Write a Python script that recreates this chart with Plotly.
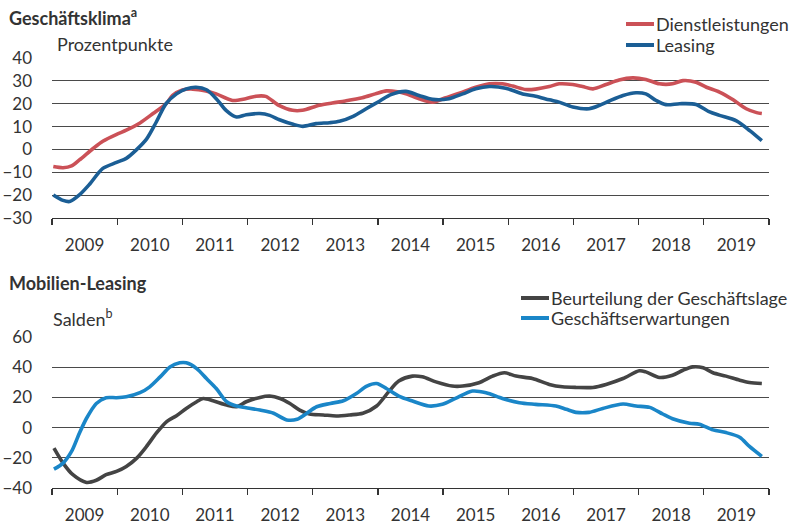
import plotly.graph_objects as go

# ---------------- data (decimal years) -------------
dl_t = [2009.02, 2009.17, 2009.30, 2009.42, 2009.63, 2009.78, 2010.00, 2010.14, 2010.35, 2010.55,
        2010.75, 2010.85, 2011.00, 2011.16, 2011.36, 2011.52, 2011.77, 2011.97, 2012.13, 2012.28,
        2012.48, 2012.69, 2012.84, 2013.10, 2013.30, 2013.50, 2013.76, 2013.96, 2014.13, 2014.30,
        2014.43, 2014.63, 2014.84, 2015.04, 2015.25, 2015.50, 2015.71, 2015.91, 2016.07, 2016.27,
        2016.42, 2016.63, 2016.78, 2016.99, 2017.14, 2017.30, 2017.50, 2017.70, 2017.91, 2018.11,
        2018.32, 2018.52, 2018.68, 2018.88, 2019.04, 2019.24, 2019.45, 2019.65, 2019.81, 2019.89]
dl_v = [-7.5, -8.0, -7.2, -4.6, 0.4, 3.6, 6.7, 8.4, 11.6, 15.7,
        20.0, 23.6, 26.0, 26.4, 25.6, 24.3, 21.4, 22.2, 23.3, 23.2,
        19.3, 17.1, 17.1, 19.3, 20.3, 21.2, 22.6, 24.3, 25.6, 25.2,
        24.3, 22.2, 20.7, 22.6, 24.6, 27.2, 28.7, 28.7, 27.7, 26.2,
        26.4, 27.5, 28.7, 28.4, 27.5, 26.5, 28.4, 30.4, 31.3, 30.6,
        28.7, 28.7, 30.1, 29.4, 27.2, 25.1, 21.7, 17.8, 16.1, 15.7]

le_t = [2009.02, 2009.17, 2009.27, 2009.42, 2009.58, 2009.78, 2009.99, 2010.14, 2010.29, 2010.45,
        2010.60, 2010.75, 2010.91, 2011.06, 2011.21, 2011.37, 2011.52, 2011.67, 2011.83, 2011.98,
        2012.19, 2012.34, 2012.49, 2012.70, 2012.85, 2013.05, 2013.26, 2013.41, 2013.62, 2013.82,
        2014.03, 2014.20, 2014.43, 2014.63, 2014.84, 2015.09, 2015.30, 2015.50, 2015.71, 2015.96,
        2016.22, 2016.42, 2016.63, 2016.78, 2016.99, 2017.24, 2017.40, 2017.55, 2017.76, 2017.96,
        2018.11, 2018.27, 2018.42, 2018.63, 2018.88, 2019.09, 2019.24, 2019.50, 2019.71, 2019.89]
le_v = [-19.9, -22.3, -22.8, -19.9, -15.1, -8.3, -5.7, -3.9, -0.3, 4.5,
        12.0, 20.0, 24.3, 26.5, 27.2, 26.1, 22.2, 17.1, 14.2, 15.2,
        15.7, 14.9, 13.0, 11.0, 10.1, 11.3, 11.7, 12.3, 14.5, 17.8,
        21.2, 24.0, 25.4, 23.6, 21.9, 22.2, 24.3, 26.5, 27.5, 26.8,
        24.3, 23.3, 21.7, 20.7, 18.6, 17.8, 19.3, 21.2, 23.6, 24.8,
        24.3, 21.4, 19.6, 20.0, 19.7, 16.4, 14.9, 12.5, 8.1, 3.8]

bl_t = [2009.03, 2009.17, 2009.32, 2009.53, 2009.68, 2009.83, 2009.99, 2010.14, 2010.30, 2010.45,
        2010.60, 2010.76, 2010.91, 2011.06, 2011.22, 2011.32, 2011.47, 2011.68, 2011.83, 2011.98,
        2012.19, 2012.34, 2012.50, 2012.65, 2012.80, 2012.95, 2013.16, 2013.36, 2013.57, 2013.77,
        2013.98, 2014.17, 2014.32, 2014.53, 2014.68, 2014.89, 2015.14, 2015.30, 2015.55, 2015.76,
        2015.94, 2016.12, 2016.37, 2016.63, 2016.83, 2017.04, 2017.30, 2017.50, 2017.76, 2018.01,
        2018.11, 2018.32, 2018.52, 2018.68, 2018.83, 2018.99, 2019.14, 2019.34, 2019.55, 2019.70,
        2019.89]
bl_v = [-13.6, -23.5, -31.2, -36.3, -34.9, -31.2, -29.0, -25.7, -20.2, -12.5,
        -3.7, 4.0, 7.9, 12.7, 17.1, 19.3, 17.8, 14.9, 13.8, 17.1,
        20.0, 20.9, 19.3, 16.0, 11.6, 9.0, 8.4, 7.7, 8.4, 9.5,
        14.3, 24.0, 30.8, 34.1, 33.6, 30.3, 27.5, 27.5, 29.7, 34.1,
        36.3, 34.1, 32.5, 28.6, 27.0, 26.6, 26.6, 28.6, 32.5, 37.6,
        36.9, 33.2, 34.7, 38.0, 40.2, 39.6, 36.3, 34.1, 31.4, 29.9,
        29.2]

ge_t = [2009.03, 2009.17, 2009.30, 2009.42, 2009.53, 2009.68, 2009.83, 2009.99, 2010.14, 2010.35,
        2010.50, 2010.66, 2010.81, 2010.96, 2011.06, 2011.22, 2011.37, 2011.52, 2011.68, 2011.83,
        2011.98, 2012.19, 2012.40, 2012.60, 2012.76, 2012.91, 2013.06, 2013.27, 2013.47, 2013.67,
        2013.83, 2013.98, 2014.13, 2014.32, 2014.53, 2014.78, 2014.99, 2015.19, 2015.45, 2015.66,
        2015.91, 2016.17, 2016.42, 2016.73, 2016.89, 2017.04, 2017.24, 2017.45, 2017.76, 2017.96,
        2018.17, 2018.37, 2018.52, 2018.78, 2018.93, 2019.14, 2019.34, 2019.55, 2019.70, 2019.89]
ge_v = [-27.5, -23.5, -15.8, -3.7, 6.2, 16.0, 19.8, 19.8, 20.4, 23.1,
        27.0, 33.6, 40.2, 42.9, 42.9, 39.1, 32.5, 25.9, 17.1, 14.3,
        13.2, 11.6, 9.5, 5.1, 5.5, 9.5, 13.8, 16.0, 17.8, 22.6,
        27.5, 29.2, 25.9, 20.9, 17.6, 14.3, 15.4, 19.3, 24.2, 23.1,
        19.3, 16.5, 15.4, 14.3, 12.1, 10.1, 10.1, 12.7, 15.6, 14.3,
        13.4, 9.0, 5.9, 2.9, 2.2, -1.5, -3.3, -6.4, -12.5, -19.1]

years = list(range(2009, 2020))
year_labels = [str(y) for y in years]

# ---------------- styling ----------------
W, H = 789, 525
FONT = "Lato"
TXT = "#333333"
C_DL = "#cb5157"
C_LE = "#1b5e95"
C_BL = "#444444"
C_GE = "#1a86c8"
LW = 3.6

def px_x(p):
    return p / W

def px_y(p):
    return 1 - p / H

fig = go.Figure()
line_kw = dict(mode="lines", line_shape="spline", showlegend=False, hoverinfo="skip")
fig.add_trace(go.Scatter(x=dl_t, y=dl_v, line=dict(color=C_DL, width=LW, smoothing=0.8), xaxis="x", yaxis="y", **line_kw))
fig.add_trace(go.Scatter(x=le_t, y=le_v, line=dict(color=C_LE, width=LW, smoothing=0.8), xaxis="x", yaxis="y", **line_kw))
fig.add_trace(go.Scatter(x=bl_t, y=bl_v, line=dict(color=C_BL, width=LW, smoothing=0.8), xaxis="x2", yaxis="y2", **line_kw))
fig.add_trace(go.Scatter(x=ge_t, y=ge_v, line=dict(color=C_GE, width=LW, smoothing=0.8), xaxis="x2", yaxis="y2", **line_kw))

xdom = [px_x(52), px_x(769)]
xcommon = dict(
    domain=xdom, range=[2009, 2020], showgrid=False, zeroline=False,
    tickmode="array", tickvals=[y + 0.5 for y in years], ticktext=year_labels,
    ticks="", showline=True, linecolor="#333333", linewidth=1.2,
    tickfont=dict(family=FONT, size=17, color=TXT), ticklabelstandoff=11,
    minor=dict(tickmode="array", tickvals=list(range(2009, 2021)), ticks="outside",
               ticklen=6, tickwidth=1.2, tickcolor="#333333", showgrid=False),
    automargin=False, fixedrange=True,
)
ycommon = dict(
    showgrid=True, gridcolor="#4a4a4a", gridwidth=1, zeroline=False, ticks="",
    showline=False, tickfont=dict(family=FONT, size=17, color=TXT),
    ticklabelstandoff=19, automargin=False, fixedrange=True,
)

fig.update_layout(
    width=W, height=H,
    margin=dict(l=0, r=0, t=0, b=0),
    paper_bgcolor="white", plot_bgcolor="white",
    showlegend=False,
    font=dict(family=FONT, size=18, color=TXT),
    xaxis=dict(anchor="y", **xcommon),
    xaxis2=dict(anchor="y2", **xcommon),
    yaxis=dict(anchor="x", domain=[px_y(218), px_y(58)], range=[-30, 40],
               tickmode="array", tickvals=list(range(-30, 41, 10)), **ycommon),
    yaxis2=dict(anchor="x2", domain=[px_y(488), px_y(337)], range=[-40, 60],
                tickmode="array", tickvals=list(range(-40, 61, 20)), **ycommon),
)

def label(text, x, y, size=18, bold=False):
    fig.add_annotation(text=f"<b>{text}</b>" if bold else text, xref="paper", yref="paper",
                       x=px_x(x), y=px_y(y), xanchor="left", yanchor="middle", showarrow=False,
                       font=dict(family=FONT, size=size, color=TXT))

label("Geschäftsklima<sup>a</sup>", 7, 17, bold=True)
label("Prozentpunkte", 55, 44)
label("Mobilien-Leasing", 7, 283, bold=True)
label("Salden<sup>b</sup>", 51, 318)

def legend_item(text, color, x0, x1, y):
    fig.add_shape(type="line", xref="paper", yref="paper", x0=px_x(x0), x1=px_x(x1),
                  y0=px_y(y), y1=px_y(y), line=dict(color=color, width=4))
    label(text, x1, y)

legend_item("Dienstleistungen", C_DL, 626, 654, 24)
legend_item("Leasing", C_LE, 626, 654, 45)
legend_item("Beurteilung der Geschäftslage", C_BL, 521, 549, 298)
legend_item("Geschäftserwartungen", C_GE, 521, 549, 318)

fig.write_html("out.html", config={"displayModeBar": False, "staticPlot": True},
               post_script="document.body.style.margin='0px';")
